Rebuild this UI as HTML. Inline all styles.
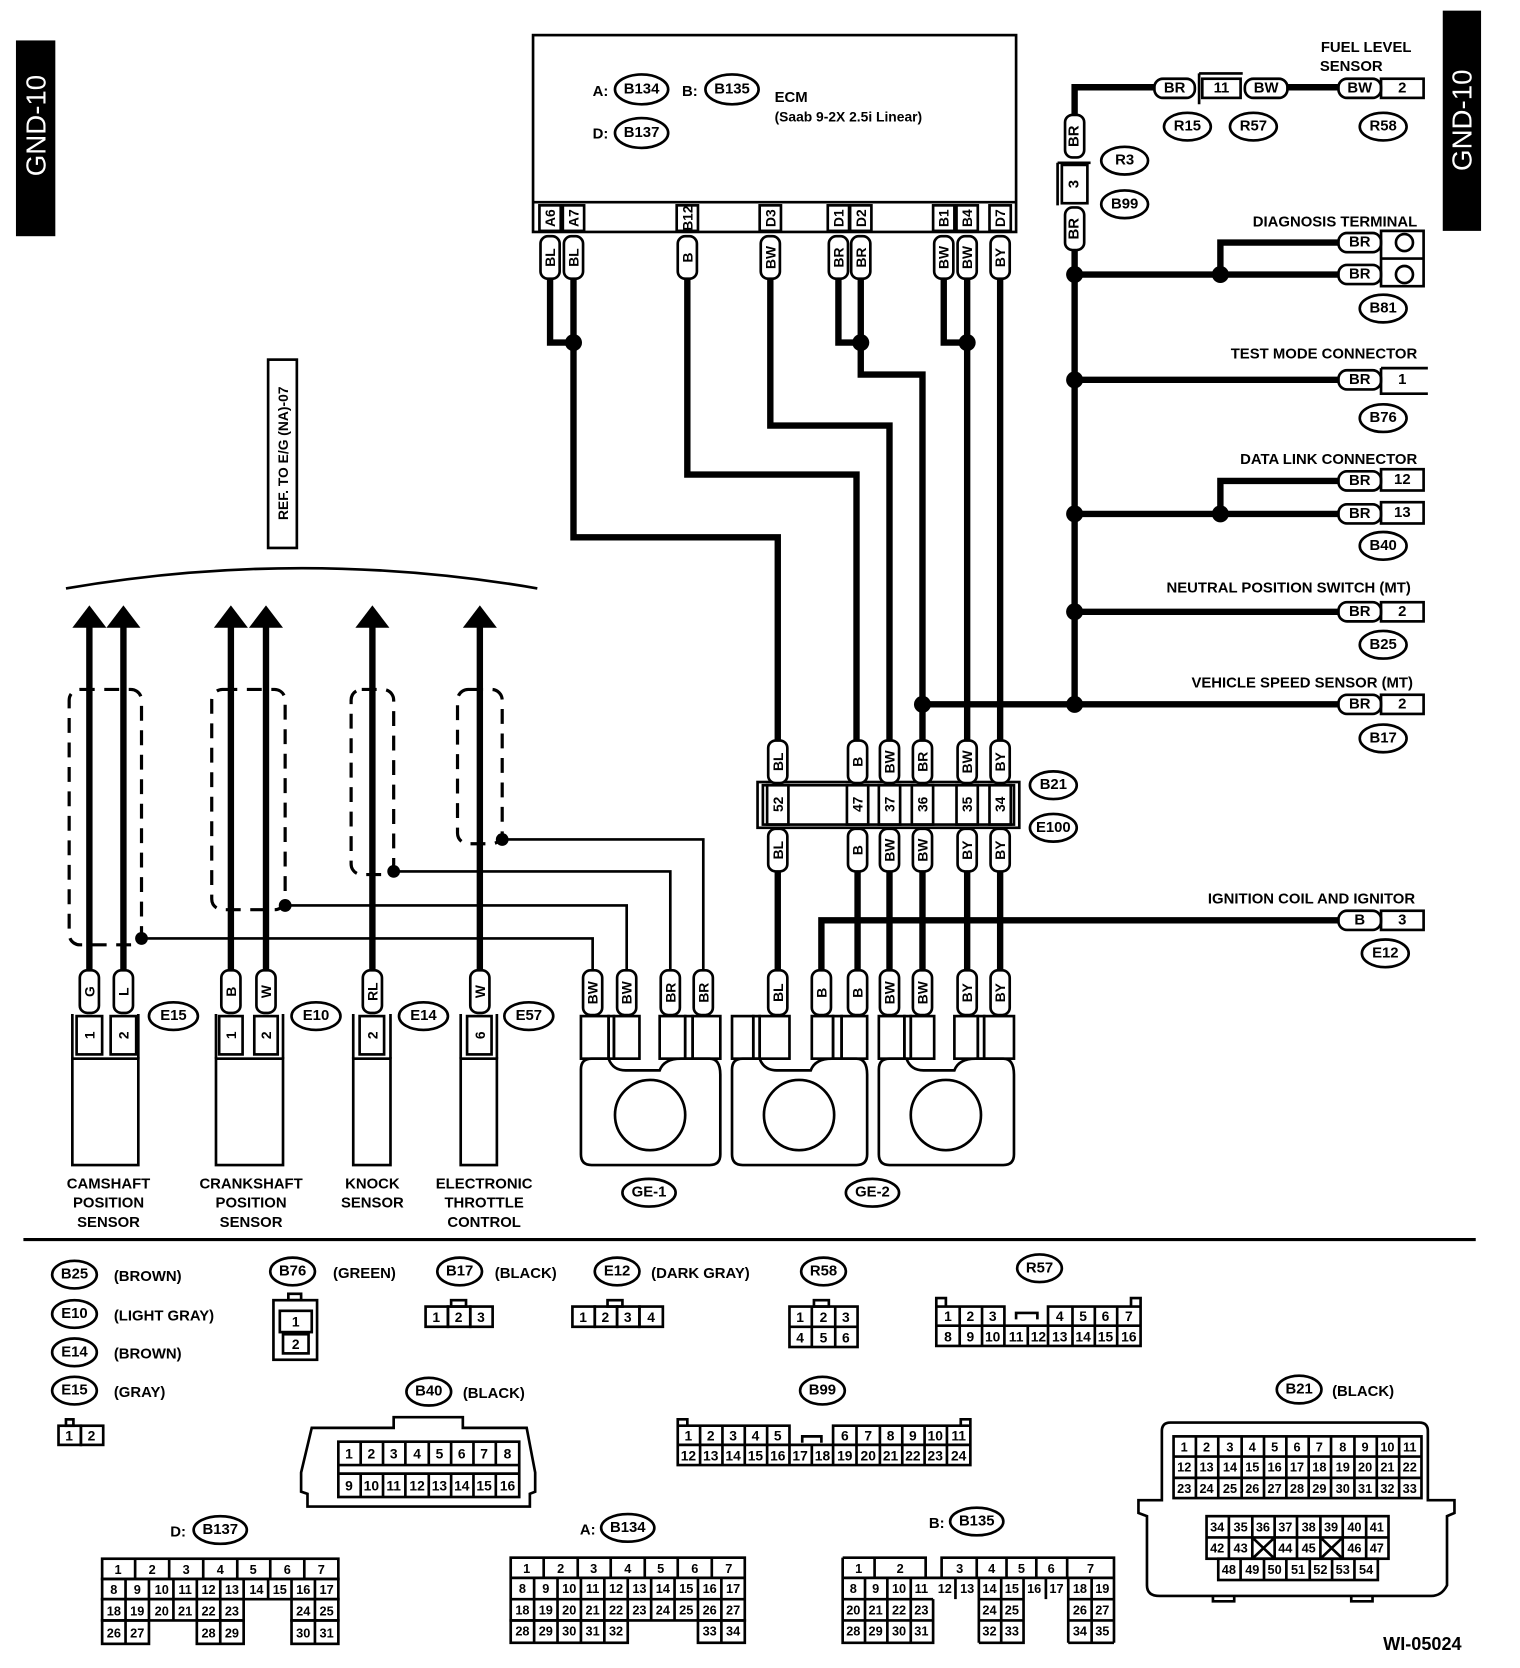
<!DOCTYPE html>
<html><head><meta charset="utf-8"><style>
html,body{margin:0;padding:0;background:#fff;}
svg{display:block;}
text{font-family:"Liberation Sans",sans-serif;font-weight:bold;fill:#000;}
.w{stroke:#000;stroke-width:6;fill:none;stroke-linejoin:miter;}
.t{stroke:#000;stroke-width:2.5;fill:none;}
.b{stroke:#000;stroke-width:2.5;fill:#fff;}
.d{stroke:#000;stroke-width:3;fill:none;stroke-dasharray:14 9;}
.c{text-anchor:middle;dominant-baseline:central;}
</style></head><body>
<svg width="1520" height="1668" viewBox="0 0 1428.6 1567.7" xmlns="http://www.w3.org/2000/svg">
<rect x="15" y="38" width="37" height="184" fill="#000"/>
<text class="c" transform="translate(34,118) rotate(-90)" style="fill:#fff;font-weight:normal;font-size:26px">GND-10</text>
<rect x="1356" y="10" width="36" height="207" fill="#000"/>
<text class="c" transform="translate(1374,113) rotate(-90)" style="fill:#fff;font-weight:normal;font-size:26px">GND-10</text>

<rect x="501" y="33" width="454" height="185" class="t" stroke-width="3"/>
<line x1="501" y1="190" x2="955" y2="190" class="t"/>
<text x="557" y="90" style="font-size:14px">A:</text>
<ellipse cx="603" cy="84" rx="25" ry="14" class="t"/><text x="603" y="84" class="c" style="font-size:14px">B134</text>
<text x="641" y="90" style="font-size:14px">B:</text>
<ellipse cx="688" cy="84" rx="25" ry="14" class="t"/><text x="688" y="84" class="c" style="font-size:14px">B135</text>
<text x="557" y="130" style="font-size:14px">D:</text>
<ellipse cx="603" cy="125" rx="25" ry="14" class="t"/><text x="603" y="125" class="c" style="font-size:14px">B137</text>
<text x="728" y="96" style="font-size:14px">ECM</text>
<text x="728" y="114" style="font-size:13px">(Saab 9-2X 2.5i Linear)</text>
<g style="font-size:13px">
<rect x="507" y="193" width="20" height="24" class="t"/><text class="c" transform="translate(517,205) rotate(-90)">A6</text>
<rect x="529" y="193" width="20" height="24" class="t"/><text class="c" transform="translate(539,205) rotate(-90)">A7</text>
<rect x="636" y="193" width="20" height="24" class="t"/><text class="c" transform="translate(646,205) rotate(-90)">B12</text>
<rect x="714" y="193" width="20" height="24" class="t"/><text class="c" transform="translate(724,205) rotate(-90)">D3</text>
<rect x="778" y="193" width="20" height="24" class="t"/><text class="c" transform="translate(788,205) rotate(-90)">D1</text>
<rect x="799" y="193" width="20" height="24" class="t"/><text class="c" transform="translate(809,205) rotate(-90)">D2</text>
<rect x="877" y="193" width="20" height="24" class="t"/><text class="c" transform="translate(887,205) rotate(-90)">B1</text>
<rect x="899" y="193" width="20" height="24" class="t"/><text class="c" transform="translate(909,205) rotate(-90)">B4</text>
<rect x="930" y="193" width="20" height="24" class="t"/><text class="c" transform="translate(940,205) rotate(-90)">D7</text>
</g>

<path class="w" d="M517,260 V322 H539"/>
<path class="w" d="M539,260 V505 H731 V702"/>
<path class="w" d="M646,260 V446 H805 V702"/>
<path class="w" d="M724,260 V400 H836 V702"/>
<path class="w" d="M788,260 V322 H809"/>
<path class="w" d="M809,260 V352 H867 V702"/>
<path class="w" d="M887,260 V322 H909"/>
<path class="w" d="M909,260 V702"/>
<path class="w" d="M940,260 V702"/>
<path class="w" d="M867,662 H1010"/>
<circle cx="539" cy="322" r="8"/><circle cx="809" cy="322" r="8"/><circle cx="909" cy="322" r="8"/><circle cx="867" cy="662" r="8"/>

<g style="font-size:13px">
<rect x="508" y="222" width="18" height="40" rx="7" class="b"/><text class="c" transform="translate(517,242) rotate(-90)">BL</text>
<rect x="530" y="222" width="18" height="40" rx="7" class="b"/><text class="c" transform="translate(539,242) rotate(-90)">BL</text>
<rect x="637" y="222" width="18" height="40" rx="7" class="b"/><text class="c" transform="translate(646,242) rotate(-90)">B</text>
<rect x="715" y="222" width="18" height="40" rx="7" class="b"/><text class="c" transform="translate(724,242) rotate(-90)">BW</text>
<rect x="779" y="222" width="18" height="40" rx="7" class="b"/><text class="c" transform="translate(788,242) rotate(-90)">BR</text>
<rect x="800" y="222" width="18" height="40" rx="7" class="b"/><text class="c" transform="translate(809,242) rotate(-90)">BR</text>
<rect x="878" y="222" width="18" height="40" rx="7" class="b"/><text class="c" transform="translate(887,242) rotate(-90)">BW</text>
<rect x="900" y="222" width="18" height="40" rx="7" class="b"/><text class="c" transform="translate(909,242) rotate(-90)">BW</text>
<rect x="931" y="222" width="18" height="40" rx="7" class="b"/><text class="c" transform="translate(940,242) rotate(-90)">BY</text>
</g>

<rect x="712" y="735" width="246" height="43" class="t"/>
<rect x="717" y="738" width="236" height="37" class="t"/>
<g style="font-size:13px">
<rect x="721" y="738" width="20" height="37" class="t"/><text class="c" transform="translate(731,756) rotate(-90)">52</text>
<rect x="796" y="738" width="20" height="37" class="t"/><text class="c" transform="translate(806,756) rotate(-90)">47</text>
<rect x="826" y="738" width="20" height="37" class="t"/><text class="c" transform="translate(836,756) rotate(-90)">37</text>
<rect x="857" y="738" width="20" height="37" class="t"/><text class="c" transform="translate(867,756) rotate(-90)">36</text>
<rect x="899" y="738" width="20" height="37" class="t"/><text class="c" transform="translate(909,756) rotate(-90)">35</text>
<rect x="930" y="738" width="20" height="37" class="t"/><text class="c" transform="translate(940,756) rotate(-90)">34</text>
</g>
<ellipse cx="990" cy="738" rx="22" ry="13" class="t"/><text x="990" y="738" class="c" style="font-size:14px">B21</text>
<ellipse cx="990" cy="778" rx="22" ry="13" class="t"/><text x="990" y="778" class="c" style="font-size:14px">E100</text>

<path class="w" d="M731,818 V915 M806,818 V915 M836,818 V915 M867,818 V915 M909,818 V915 M940,818 V915"/>
<path class="w" d="M772,915 V865 H1260"/>

<g style="font-size:13px">
<rect x="722" y="696" width="18" height="40" rx="7" class="b"/><text class="c" transform="translate(731,716) rotate(-90)">BL</text>
<rect x="797" y="696" width="18" height="40" rx="7" class="b"/><text class="c" transform="translate(806,716) rotate(-90)">B</text>
<rect x="827" y="696" width="18" height="40" rx="7" class="b"/><text class="c" transform="translate(836,716) rotate(-90)">BW</text>
<rect x="858" y="696" width="18" height="40" rx="7" class="b"/><text class="c" transform="translate(867,716) rotate(-90)">BR</text>
<rect x="900" y="696" width="18" height="40" rx="7" class="b"/><text class="c" transform="translate(909,716) rotate(-90)">BW</text>
<rect x="931" y="696" width="18" height="40" rx="7" class="b"/><text class="c" transform="translate(940,716) rotate(-90)">BY</text>
<rect x="722" y="779" width="18" height="40" rx="7" class="b"/><text class="c" transform="translate(731,799) rotate(-90)">BL</text>
<rect x="797" y="779" width="18" height="40" rx="7" class="b"/><text class="c" transform="translate(806,799) rotate(-90)">B</text>
<rect x="827" y="779" width="18" height="40" rx="7" class="b"/><text class="c" transform="translate(836,799) rotate(-90)">BW</text>
<rect x="858" y="779" width="18" height="40" rx="7" class="b"/><text class="c" transform="translate(867,799) rotate(-90)">BW</text>
<rect x="900" y="779" width="18" height="40" rx="7" class="b"/><text class="c" transform="translate(909,799) rotate(-90)">BY</text>
<rect x="931" y="779" width="18" height="40" rx="7" class="b"/><text class="c" transform="translate(940,799) rotate(-90)">BY</text>
</g>

<path class="t" d="M557,914 V882 H133 M589,914 V851 H268 M630,914 V819 H370 M661,914 V789 H472"/>
<circle cx="133" cy="882" r="6"/><circle cx="268" cy="851" r="6"/><circle cx="370" cy="819" r="6"/><circle cx="472" cy="789" r="6"/>

<g style="font-size:13px">
<rect x="548" y="912" width="18" height="42" rx="7" class="b"/><text class="c" transform="translate(557,933) rotate(-90)">BW</text>
<rect x="580" y="912" width="18" height="42" rx="7" class="b"/><text class="c" transform="translate(589,933) rotate(-90)">BW</text>
<rect x="621" y="912" width="18" height="42" rx="7" class="b"/><text class="c" transform="translate(630,933) rotate(-90)">BR</text>
<rect x="652" y="912" width="18" height="42" rx="7" class="b"/><text class="c" transform="translate(661,933) rotate(-90)">BR</text>
<rect x="722" y="912" width="18" height="42" rx="7" class="b"/><text class="c" transform="translate(731,933) rotate(-90)">BL</text>
<rect x="763" y="912" width="18" height="42" rx="7" class="b"/><text class="c" transform="translate(772,933) rotate(-90)">B</text>
<rect x="797" y="912" width="18" height="42" rx="7" class="b"/><text class="c" transform="translate(806,933) rotate(-90)">B</text>
<rect x="827" y="912" width="18" height="42" rx="7" class="b"/><text class="c" transform="translate(836,933) rotate(-90)">BW</text>
<rect x="858" y="912" width="18" height="42" rx="7" class="b"/><text class="c" transform="translate(867,933) rotate(-90)">BW</text>
<rect x="900" y="912" width="18" height="42" rx="7" class="b"/><text class="c" transform="translate(909,933) rotate(-90)">BY</text>
<rect x="931" y="912" width="18" height="42" rx="7" class="b"/><text class="c" transform="translate(940,933) rotate(-90)">BY</text>
</g>
<g class="t">
<rect x="546" y="955" width="26" height="40"/><rect x="572" y="955" width="5" height="40"/><rect x="577" y="955" width="24" height="40"/>
<rect x="620" y="955" width="24" height="40"/><rect x="644" y="955" width="7" height="40"/><rect x="651" y="955" width="26" height="40"/>
<rect x="688" y="955" width="20" height="40"/><rect x="708" y="955" width="6" height="40"/><rect x="714" y="955" width="28" height="40"/>
<rect x="763" y="955" width="20" height="40"/><rect x="783" y="955" width="8" height="40"/><rect x="791" y="955" width="24" height="40"/>
<rect x="826" y="955" width="24" height="40"/><rect x="850" y="955" width="6" height="40"/><rect x="856" y="955" width="22" height="40"/>
<rect x="897" y="955" width="22" height="40"/><rect x="919" y="955" width="6" height="40"/><rect x="925" y="955" width="28" height="40"/>
</g>
<g class="t" stroke-width="3">
<path d="M546,1005 Q546,995 556,995 H572 Q576,1006 588,1006 H620 Q624,995 640,995 H667 Q677,995 677,1010 V1085 Q677,1095 667,1095 H556 Q546,1095 546,1085 Z"/>
<circle cx="611" cy="1048" r="33"/>
<path d="M688,1005 Q688,995 698,995 H714 Q718,1006 730,1006 H762 Q766,995 782,995 H805 Q815,995 815,1010 V1085 Q815,1095 805,1095 H698 Q688,1095 688,1085 Z"/>
<circle cx="751" cy="1048" r="33"/>
<path d="M826,1005 Q826,995 836,995 H852 Q856,1006 868,1006 H897 Q901,995 917,995 H943 Q953,995 953,1010 V1085 Q953,1095 943,1095 H836 Q826,1095 826,1085 Z"/>
<circle cx="889" cy="1048" r="33"/>
</g>
<ellipse cx="610" cy="1121" rx="25" ry="13" class="t"/><text x="610" y="1121" class="c" style="font-size:14px">GE-1</text>
<ellipse cx="820" cy="1121" rx="25" ry="13" class="t"/><text x="820" y="1121" class="c" style="font-size:14px">GE-2</text>

<rect x="252" y="338" width="27" height="177" class="t"/>
<text class="c" transform="translate(266,426) rotate(-90)" style="font-size:13px">REF. TO E/G (NA)-07</text>
<path class="t" d="M62,553 Q284,515 505,553"/>

<path class="w" d="M84,585 V915 M116,585 V915 M217,585 V915 M250,585 V915 M350,585 V915 M451,585 V915"/>
<g>
<polygon points="68,590 84,569 100,590"/><polygon points="100,590 116,569 132,590"/>
<polygon points="201,590 217,569 233,590"/><polygon points="234,590 250,569 266,590"/>
<polygon points="334,590 350,569 366,590"/><polygon points="435,590 451,569 467,590"/>
</g>
<rect x="65" y="648" width="68" height="240" rx="10" class="d"/>
<rect x="199" y="648" width="69" height="207" rx="10" class="d"/>
<rect x="330" y="648" width="40" height="174" rx="10" class="d"/>
<rect x="430" y="648" width="42" height="145" rx="10" class="d"/>

<g style="font-size:13px">
<rect x="75" y="912" width="18" height="40" rx="7" class="b"/><text class="c" transform="translate(84,932) rotate(-90)">G</text>
<rect x="107" y="912" width="18" height="40" rx="7" class="b"/><text class="c" transform="translate(116,932) rotate(-90)">L</text>
<rect x="208" y="912" width="18" height="40" rx="7" class="b"/><text class="c" transform="translate(217,932) rotate(-90)">B</text>
<rect x="241" y="912" width="18" height="40" rx="7" class="b"/><text class="c" transform="translate(250,932) rotate(-90)">W</text>
<rect x="341" y="912" width="18" height="40" rx="7" class="b"/><text class="c" transform="translate(350,932) rotate(-90)">RL</text>
<rect x="442" y="912" width="18" height="40" rx="7" class="b"/><text class="c" transform="translate(451,932) rotate(-90)">W</text>
</g>
<g class="t">
<path d="M68,995 V953 M130,995 V953 M203,995 V953 M266,995 V953 M332,995 V953 M367,995 V953 M433,995 V953 M467,995 V953"/>
<rect x="72" y="955" width="24" height="36"/><rect x="104" y="955" width="24" height="36"/>
<rect x="206" y="955" width="22" height="36"/><rect x="239" y="955" width="22" height="36"/>
<rect x="338" y="955" width="23" height="36"/><rect x="439" y="955" width="23" height="36"/>
<rect x="68" y="995" width="62" height="100"/><rect x="203" y="995" width="63" height="100"/>
<rect x="332" y="995" width="35" height="100"/><rect x="433" y="995" width="34" height="100"/>
</g>
<g style="font-size:13px">
<text class="c" transform="translate(84,973) rotate(-90)">1</text><text class="c" transform="translate(116,973) rotate(-90)">2</text>
<text class="c" transform="translate(217,973) rotate(-90)">1</text><text class="c" transform="translate(250,973) rotate(-90)">2</text>
<text class="c" transform="translate(350,973) rotate(-90)">2</text><text class="c" transform="translate(451,973) rotate(-90)">6</text>
</g>
<g style="font-size:14px">
<ellipse cx="163" cy="955" rx="23" ry="13" class="t"/><text x="163" y="955" class="c">E15</text>
<ellipse cx="297" cy="955" rx="23" ry="13" class="t"/><text x="297" y="955" class="c">E10</text>
<ellipse cx="398" cy="955" rx="23" ry="13" class="t"/><text x="398" y="955" class="c">E14</text>
<ellipse cx="497" cy="955" rx="23" ry="13" class="t"/><text x="497" y="955" class="c">E57</text>
</g>
<g style="font-size:14px;text-anchor:middle">
<text x="102" y="1117">CAMSHAFT</text><text x="102" y="1135">POSITION</text><text x="102" y="1153">SENSOR</text>
<text x="236" y="1117">CRANKSHAFT</text><text x="236" y="1135">POSITION</text><text x="236" y="1153">SENSOR</text>
<text x="350" y="1117">KNOCK</text><text x="350" y="1135">SENSOR</text>
<text x="455" y="1117">ELECTRONIC</text><text x="455" y="1135">THROTTLE</text><text x="455" y="1153">CONTROL</text>
</g>

<path class="w" d="M1010,110 V82 H1087"/>
<path class="w" d="M1010,234 V662"/>
<path class="w" d="M1210,82 H1260"/>
<path class="w" d="M1010,258 H1260 M1147,258 V228 H1260"/>
<path class="w" d="M1010,357 H1260"/>
<path class="w" d="M1010,483 H1260 M1147,483 V452 H1260"/>
<path class="w" d="M1010,575 H1260"/>
<path class="w" d="M1010,662 H1260"/>
<circle cx="1010" cy="258" r="8"/><circle cx="1147" cy="258" r="8"/><circle cx="1010" cy="357" r="8"/>
<circle cx="1010" cy="483" r="8"/><circle cx="1147" cy="483" r="8"/><circle cx="1010" cy="575" r="8"/><circle cx="1010" cy="662" r="8"/>

<g style="font-size:14px">
<text x="1284" y="45" class="c">FUEL LEVEL</text>
<text x="1270" y="63" class="c">SENSOR</text>
<rect x="1085" y="74" width="38" height="18" rx="8" class="b"/><text x="1104" y="83" class="c">BR</text>
<path class="t" d="M1127,69 H1168 M1127,69 V98"/>
<rect x="1130" y="74" width="36" height="18" class="t"/><text x="1148" y="83" class="c">11</text>
<rect x="1170" y="74" width="40" height="18" rx="8" class="b"/><text x="1190" y="83" class="c">BW</text>
<rect x="1258" y="74" width="40" height="18" rx="8" class="b"/><text x="1278" y="83" class="c">BW</text>
<rect x="1298" y="74" width="40" height="18" class="t"/><text x="1318" y="83" class="c">2</text>
<ellipse cx="1116" cy="119" rx="22" ry="13" class="t"/><text x="1116" y="119" class="c">R15</text>
<ellipse cx="1178" cy="119" rx="22" ry="13" class="t"/><text x="1178" y="119" class="c">R57</text>
<ellipse cx="1300" cy="119" rx="22" ry="13" class="t"/><text x="1300" y="119" class="c">R58</text>

<rect x="1001" y="108" width="18" height="40" rx="7" class="b"/><text class="c" transform="translate(1010,128) rotate(-90)">BR</text>
<path class="t" d="M994,153 V193 M994,153 H1025"/>
<rect x="998" y="155" width="24" height="36" class="t"/><text class="c" transform="translate(1010,173) rotate(-90)">3</text>
<rect x="1001" y="195" width="18" height="40" rx="7" class="b"/><text class="c" transform="translate(1010,215) rotate(-90)">BR</text>
<ellipse cx="1057" cy="151" rx="22" ry="13" class="t"/><text x="1057" y="151" class="c">R3</text>
<ellipse cx="1057" cy="192" rx="22" ry="13" class="t"/><text x="1057" y="192" class="c">B99</text>

<text x="1332" y="213" style="text-anchor:end">DIAGNOSIS TERMINAL</text>
<rect x="1258" y="219" width="40" height="18" rx="8" class="b"/><text x="1278" y="228" class="c">BR</text>
<rect x="1258" y="249" width="40" height="18" rx="8" class="b"/><text x="1278" y="258" class="c">BR</text>
<path class="t" d="M1298,217 H1338 V269 H1298 Z M1298,243 H1338"/>
<circle cx="1320" cy="228" r="8" class="t"/><circle cx="1320" cy="258" r="8" class="t"/>
<ellipse cx="1300" cy="290" rx="22" ry="13" class="t"/><text x="1300" y="290" class="c">B81</text>

<text x="1332" y="337" style="text-anchor:end">TEST MODE CONNECTOR</text>
<rect x="1258" y="348" width="40" height="18" rx="8" class="b"/><text x="1278" y="357" class="c">BR</text>
<path class="t" d="M1298,346 H1342 M1298,346 V370 H1342"/><text x="1318" y="357" class="c">1</text>
<ellipse cx="1300" cy="393" rx="22" ry="13" class="t"/><text x="1300" y="393" class="c">B76</text>

<text x="1332" y="436" style="text-anchor:end">DATA LINK CONNECTOR</text>
<rect x="1258" y="443" width="40" height="18" rx="8" class="b"/><text x="1278" y="452" class="c">BR</text>
<rect x="1258" y="474" width="40" height="18" rx="8" class="b"/><text x="1278" y="483" class="c">BR</text>
<rect x="1298" y="441" width="40" height="20" class="t"/><text x="1318" y="451" class="c">12</text>
<rect x="1298" y="472" width="40" height="20" class="t"/><text x="1318" y="482" class="c">13</text>
<ellipse cx="1300" cy="513" rx="22" ry="13" class="t"/><text x="1300" y="513" class="c">B40</text>

<text x="1326" y="557" style="text-anchor:end">NEUTRAL POSITION SWITCH (MT)</text>
<rect x="1258" y="566" width="40" height="18" rx="8" class="b"/><text x="1278" y="575" class="c">BR</text>
<rect x="1298" y="566" width="40" height="18" class="t"/><text x="1318" y="575" class="c">2</text>
<ellipse cx="1300" cy="606" rx="22" ry="13" class="t"/><text x="1300" y="606" class="c">B25</text>

<text x="1328" y="646" style="text-anchor:end">VEHICLE SPEED SENSOR (MT)</text>
<rect x="1258" y="653" width="40" height="18" rx="8" class="b"/><text x="1278" y="662" class="c">BR</text>
<rect x="1298" y="653" width="40" height="18" class="t"/><text x="1318" y="662" class="c">2</text>
<ellipse cx="1300" cy="694" rx="22" ry="13" class="t"/><text x="1300" y="694" class="c">B17</text>

<text x="1330" y="849" style="text-anchor:end">IGNITION COIL AND IGNITOR</text>
<rect x="1258" y="856" width="40" height="18" rx="8" class="b"/><text x="1278" y="865" class="c">B</text>
<rect x="1298" y="856" width="40" height="18" class="t"/><text x="1318" y="865" class="c">3</text>
<ellipse cx="1302" cy="896" rx="22" ry="13" class="t"/><text x="1302" y="896" class="c">E12</text>
</g>

<line x1="22" y1="1165" x2="1387" y2="1165" stroke="#000" stroke-width="3"/>

<g style="font-size:14px">
<ellipse cx="70" cy="1198" rx="21" ry="13" class="t" stroke-width="3"/><text x="70" y="1198" class="c">B25</text><text x="107" y="1204">(BROWN)</text>
<ellipse cx="70" cy="1235" rx="21" ry="13" class="t" stroke-width="3"/><text x="70" y="1235" class="c">E10</text><text x="107" y="1241">(LIGHT GRAY)</text>
<ellipse cx="70" cy="1271" rx="21" ry="13" class="t" stroke-width="3"/><text x="70" y="1271" class="c">E14</text><text x="107" y="1277">(BROWN)</text>
<ellipse cx="70" cy="1307" rx="21" ry="13" class="t" stroke-width="3"/><text x="70" y="1307" class="c">E15</text><text x="107" y="1313">(GRAY)</text>
<ellipse cx="275" cy="1195" rx="21" ry="13" class="t" stroke-width="3"/><text x="275" y="1195" class="c">B76</text><text x="313" y="1201">(GREEN)</text>
<ellipse cx="432" cy="1195" rx="21" ry="13" class="t" stroke-width="3"/><text x="432" y="1195" class="c">B17</text><text x="465" y="1201">(BLACK)</text>
<ellipse cx="580" cy="1195" rx="21" ry="13" class="t" stroke-width="3"/><text x="580" y="1195" class="c">E12</text><text x="612" y="1201">(DARK GRAY)</text>
<ellipse cx="774" cy="1195" rx="21" ry="13" class="t" stroke-width="3"/><text x="774" y="1195" class="c">R58</text>
<ellipse cx="977" cy="1192" rx="21" ry="13" class="t" stroke-width="3"/><text x="977" y="1192" class="c">R57</text>
<ellipse cx="403" cy="1308" rx="21" ry="13" class="t" stroke-width="3"/><text x="403" y="1308" class="c">B40</text><text x="435" y="1314">(BLACK)</text>
<ellipse cx="773" cy="1307" rx="21" ry="13" class="t" stroke-width="3"/><text x="773" y="1307" class="c">B99</text>
<ellipse cx="1221" cy="1306" rx="21" ry="13" class="t" stroke-width="3"/><text x="1221" y="1306" class="c">B21</text><text x="1252" y="1312">(BLACK)</text>
<text x="160" y="1444">D:</text><ellipse cx="207" cy="1438" rx="25" ry="13" class="t" stroke-width="3"/><text x="207" y="1438" class="c">B137</text>
<text x="545" y="1442">A:</text><ellipse cx="590" cy="1436" rx="25" ry="13" class="t" stroke-width="3"/><text x="590" y="1436" class="c">B134</text>
<text x="873" y="1436">B:</text><ellipse cx="918" cy="1430" rx="25" ry="13" class="t" stroke-width="3"/><text x="918" y="1430" class="c">B135</text>
<text x="1300" y="1551" style="font-size:17px">WI-05024</text>
</g>

<g style="font-size:13px">
<rect x="62" y="1334" width="7" height="6" class="t"/>
<rect x="55" y="1340" width="21" height="18" class="t"/><rect x="76" y="1340" width="21" height="18" class="t"/>
<text x="65" y="1349" class="c">1</text><text x="86" y="1349" class="c">2</text>
<rect x="271" y="1216" width="12" height="6" class="t"/>
<rect x="257" y="1222" width="41" height="56" class="t"/>
<rect x="263" y="1232" width="30" height="20" class="t"/><rect x="266" y="1254" width="24" height="18" class="t"/>
<text x="278" y="1242" class="c">1</text><text x="278" y="1263" class="c">2</text>
<rect x="424" y="1222" width="14" height="6" class="t"/>
<rect x="400" y="1228" width="21" height="19" class="t"/><rect x="421" y="1228" width="21" height="19" class="t"/><rect x="442" y="1228" width="21" height="19" class="t"/>
<text x="410" y="1238" class="c">1</text><text x="431" y="1238" class="c">2</text><text x="452" y="1238" class="c">3</text>
<rect x="571" y="1222" width="14" height="6" class="t"/>
<rect x="538" y="1228" width="21" height="19" class="t"/><rect x="559" y="1228" width="21" height="19" class="t"/><rect x="580" y="1228" width="21" height="19" class="t"/><rect x="601" y="1228" width="22" height="19" class="t"/>
<text x="548" y="1238" class="c">1</text><text x="569" y="1238" class="c">2</text><text x="590" y="1238" class="c">3</text><text x="612" y="1238" class="c">4</text>
<rect x="765" y="1222" width="14" height="6" class="t"/>
<rect x="742" y="1228" width="64" height="38" class="t"/>
<path class="t" d="M763,1228 V1266 M785,1228 V1266 M742,1247 H806"/>
<text x="752" y="1238" class="c">1</text><text x="774" y="1238" class="c">2</text><text x="795" y="1238" class="c">3</text>
<text x="752" y="1257" class="c">4</text><text x="774" y="1257" class="c">5</text><text x="795" y="1257" class="c">6</text>
<path class="t" d="M880,1228 V1265 H1072 V1228 M880,1228 H944 V1246 M985,1246 V1228 H1072 M880,1246 H1072 M902,1228 V1265 M923,1228 V1265 M944,1246 V1265 M966,1246 V1265 M985,1228 V1265 M1008,1228 V1265 M1029,1228 V1265 M1050,1228 V1265 M955,1240 V1234 H975 V1240 M880,1228 V1220 H889 V1228 M1063,1228 V1220 H1072 V1228"/>
<text x="891" y="1237" class="c">1</text><text x="912" y="1237" class="c">2</text><text x="933" y="1237" class="c">3</text>
<text x="996" y="1237" class="c">4</text><text x="1018" y="1237" class="c">5</text><text x="1039" y="1237" class="c">6</text><text x="1061" y="1237" class="c">7</text>
<text x="891" y="1256" class="c">8</text><text x="912" y="1256" class="c">9</text><text x="933" y="1256" class="c">10</text><text x="955" y="1256" class="c">11</text><text x="976" y="1256" class="c">12</text><text x="996" y="1256" class="c">13</text><text x="1018" y="1256" class="c">14</text><text x="1039" y="1256" class="c">15</text><text x="1061" y="1256" class="c">16</text>
<path class="t" d="M370,1342 V1332 H435 V1342 H495 L503,1384 V1402 L498,1404 V1416 H289 V1404 L283,1402 V1384 L293,1342 Z"/>
<rect x="318" y="1355" width="170" height="52" class="t"/>
<path class="t" d="M318,1377 H488 M318,1385 H488 M339,1355 V1377 M360,1355 V1377 M381,1355 V1377 M403,1355 V1377 M424,1355 V1377 M445,1355 V1377 M466,1355 V1377 M339,1385 V1407 M360,1385 V1407 M381,1385 V1407 M403,1385 V1407 M424,1385 V1407 M445,1385 V1407 M466,1385 V1407"/>
<text x="328" y="1366" class="c">1</text><text x="349" y="1366" class="c">2</text><text x="370" y="1366" class="c">3</text><text x="392" y="1366" class="c">4</text><text x="413" y="1366" class="c">5</text><text x="434" y="1366" class="c">6</text><text x="455" y="1366" class="c">7</text><text x="477" y="1366" class="c">8</text>
<text x="328" y="1396" class="c">9</text><text x="349" y="1396" class="c">10</text><text x="370" y="1396" class="c">11</text><text x="392" y="1396" class="c">12</text><text x="413" y="1396" class="c">13</text><text x="434" y="1396" class="c">14</text><text x="455" y="1396" class="c">15</text><text x="477" y="1396" class="c">16</text>
<!-- B99 -->
<path class="t" d="M637,1340 H742 V1358 M783,1358 V1340 H912 V1377 H637 V1340 M637,1358 H912 M658,1340 V1377 M679,1340 V1377 M700,1340 V1377 M721,1340 V1377 M742,1358 V1377 M763,1358 V1377 M783,1340 V1377 M805,1340 V1377 M827,1340 V1377 M848,1340 V1377 M869,1340 V1377 M890,1340 V1377 M754,1356 V1350 H772 V1356 M637,1340 V1334 H646 V1340 M903,1340 V1334 H912 V1340"/>
<text x="647" y="1349" class="c">1</text><text x="668" y="1349" class="c">2</text><text x="689" y="1349" class="c">3</text><text x="710" y="1349" class="c">4</text><text x="731" y="1349" class="c">5</text>
<text x="794" y="1349" class="c">6</text><text x="816" y="1349" class="c">7</text><text x="837" y="1349" class="c">8</text><text x="858" y="1349" class="c">9</text><text x="879" y="1349" class="c">10</text><text x="901" y="1349" class="c">11</text>
<text x="647" y="1368" class="c">12</text><text x="668" y="1368" class="c">13</text><text x="689" y="1368" class="c">14</text><text x="710" y="1368" class="c">15</text><text x="731" y="1368" class="c">16</text><text x="752" y="1368" class="c">17</text><text x="773" y="1368" class="c">18</text><text x="794" y="1368" class="c">19</text><text x="816" y="1368" class="c">20</text><text x="837" y="1368" class="c">21</text><text x="858" y="1368" class="c">22</text><text x="879" y="1368" class="c">23</text><text x="901" y="1368" class="c">24</text>
<!-- B21 -->
<path class="t" d="M1092,1410 V1345 Q1092,1337 1100,1337 H1334 Q1342,1337 1342,1345 V1410 H1367 V1422 L1360,1425 V1490 Q1355,1500 1345,1500 H1090 Q1078,1500 1078,1490 V1425 L1070,1422 V1410 Z M1140,1500 V1505 H1160 V1500 M1270,1500 V1505 H1290 V1500"/>
<rect x="1103" y="1350" width="233" height="58" class="t"/>
<path class="t" d="M1103,1369 H1336 M1103,1389 H1336 M1124,1350 V1408 M1145,1350 V1408 M1167,1350 V1408 M1188,1350 V1408 M1209,1350 V1408 M1230,1350 V1408 M1251,1350 V1408 M1273,1350 V1408 M1294,1350 V1408 M1315,1350 V1408"/>
<g style="font-size:12px">
<text x="1113" y="1360" class="c">1</text><text x="1134" y="1360" class="c">2</text><text x="1156" y="1360" class="c">3</text><text x="1177" y="1360" class="c">4</text><text x="1198" y="1360" class="c">5</text><text x="1219" y="1360" class="c">6</text><text x="1240" y="1360" class="c">7</text><text x="1262" y="1360" class="c">8</text><text x="1283" y="1360" class="c">9</text><text x="1304" y="1360" class="c">10</text><text x="1325" y="1360" class="c">11</text>
<text x="1113" y="1379" class="c">12</text><text x="1134" y="1379" class="c">13</text><text x="1156" y="1379" class="c">14</text><text x="1177" y="1379" class="c">15</text><text x="1198" y="1379" class="c">16</text><text x="1219" y="1379" class="c">17</text><text x="1240" y="1379" class="c">18</text><text x="1262" y="1379" class="c">19</text><text x="1283" y="1379" class="c">20</text><text x="1304" y="1379" class="c">21</text><text x="1325" y="1379" class="c">22</text>
<text x="1113" y="1399" class="c">23</text><text x="1134" y="1399" class="c">24</text><text x="1156" y="1399" class="c">25</text><text x="1177" y="1399" class="c">26</text><text x="1198" y="1399" class="c">27</text><text x="1219" y="1399" class="c">28</text><text x="1240" y="1399" class="c">29</text><text x="1262" y="1399" class="c">30</text><text x="1283" y="1399" class="c">31</text><text x="1304" y="1399" class="c">32</text><text x="1325" y="1399" class="c">33</text>
</g>
<rect x="1134" y="1425" width="171" height="40" class="t"/>
<path class="t" d="M1134,1445 H1305 M1155,1425 V1465 M1177,1425 V1465 M1198,1425 V1465 M1219,1425 V1465 M1241,1425 V1465 M1262,1425 V1465 M1284,1425 V1465 M1177,1445 L1198,1465 M1198,1445 L1177,1465 M1241,1445 L1262,1465 M1262,1445 L1241,1465"/>
<rect x="1145" y="1465" width="150" height="20" class="t"/>
<path class="t" d="M1166,1465 V1485 M1188,1465 V1485 M1209,1465 V1485 M1231,1465 V1485 M1252,1465 V1485 M1273,1465 V1485"/>
<g style="font-size:12px">
<text x="1144" y="1435" class="c">34</text><text x="1166" y="1435" class="c">35</text><text x="1187" y="1435" class="c">36</text><text x="1208" y="1435" class="c">37</text><text x="1230" y="1435" class="c">38</text><text x="1251" y="1435" class="c">39</text><text x="1273" y="1435" class="c">40</text><text x="1294" y="1435" class="c">41</text>
<text x="1144" y="1455" class="c">42</text><text x="1166" y="1455" class="c">43</text><text x="1208" y="1455" class="c">44</text><text x="1230" y="1455" class="c">45</text><text x="1273" y="1455" class="c">46</text><text x="1294" y="1455" class="c">47</text>
<text x="1155" y="1475" class="c">48</text><text x="1177" y="1475" class="c">49</text><text x="1198" y="1475" class="c">50</text><text x="1220" y="1475" class="c">51</text><text x="1241" y="1475" class="c">52</text><text x="1262" y="1475" class="c">53</text><text x="1284" y="1475" class="c">54</text>
</g>
<!-- B137 -->
<g style="font-size:12px">
<rect x="96" y="1465" width="222" height="19" class="t"/>
<rect x="96" y="1484" width="222" height="19" class="t"/>
<rect x="96" y="1503" width="133" height="20" class="t"/>
<rect x="274" y="1503" width="44" height="20" class="t"/>
<rect x="96" y="1523" width="44" height="22" class="t"/>
<rect x="185" y="1523" width="44" height="22" class="t"/>
<rect x="274" y="1523" width="44" height="22" class="t"/>
<path class="t" d="M127,1465 V1484 M159,1465 V1484 M191,1465 V1484 M223,1465 V1484 M254,1465 V1484 M286,1465 V1484 M118,1484 V1523 M140,1484 V1523 M163,1484 V1523 M185,1484 V1523 M207,1484 V1523 M229,1484 V1503 M252,1484 V1503 M274,1484 V1503 M296,1484 V1545 M118,1523 V1545 M207,1523 V1545"/>
<text x="111" y="1475" class="c">1</text><text x="143" y="1475" class="c">2</text><text x="175" y="1475" class="c">3</text><text x="207" y="1475" class="c">4</text><text x="238" y="1475" class="c">5</text><text x="270" y="1475" class="c">6</text><text x="302" y="1475" class="c">7</text>
<text x="107" y="1494" class="c">8</text><text x="129" y="1494" class="c">9</text><text x="152" y="1494" class="c">10</text><text x="174" y="1494" class="c">11</text><text x="196" y="1494" class="c">12</text><text x="218" y="1494" class="c">13</text><text x="241" y="1494" class="c">14</text><text x="263" y="1494" class="c">15</text><text x="285" y="1494" class="c">16</text><text x="307" y="1494" class="c">17</text>
<text x="107" y="1514" class="c">18</text><text x="129" y="1514" class="c">19</text><text x="152" y="1514" class="c">20</text><text x="174" y="1514" class="c">21</text><text x="196" y="1514" class="c">22</text><text x="218" y="1514" class="c">23</text><text x="285" y="1514" class="c">24</text><text x="307" y="1514" class="c">25</text>
<text x="107" y="1535" class="c">26</text><text x="129" y="1535" class="c">27</text><text x="196" y="1535" class="c">28</text><text x="218" y="1535" class="c">29</text><text x="285" y="1535" class="c">30</text><text x="307" y="1535" class="c">31</text>
</g>
<!-- B134 -->
<g style="font-size:12px">
<rect x="480" y="1464" width="220" height="59" class="t"/>
<path class="t" d="M480,1483 H700 M480,1503 H700 M511,1464 V1483 M543,1464 V1483 M574,1464 V1483 M606,1464 V1483 M637,1464 V1483 M669,1464 V1483 M502,1483 V1523 M524,1483 V1523 M546,1483 V1523 M568,1483 V1523 M590,1483 V1523 M612,1483 V1523 M634,1483 V1523 M656,1483 V1523 M678,1483 V1523"/>
<rect x="480" y="1523" width="110" height="21" class="t"/>
<rect x="656" y="1523" width="44" height="21" class="t"/>
<path class="t" d="M502,1523 V1544 M524,1523 V1544 M546,1523 V1544 M568,1523 V1544 M678,1523 V1544"/>
<text x="495" y="1474" class="c">1</text><text x="527" y="1474" class="c">2</text><text x="558" y="1474" class="c">3</text><text x="590" y="1474" class="c">4</text><text x="621" y="1474" class="c">5</text><text x="653" y="1474" class="c">6</text><text x="685" y="1474" class="c">7</text>
<text x="491" y="1493" class="c">8</text><text x="513" y="1493" class="c">9</text><text x="535" y="1493" class="c">10</text><text x="557" y="1493" class="c">11</text><text x="579" y="1493" class="c">12</text><text x="601" y="1493" class="c">13</text><text x="623" y="1493" class="c">14</text><text x="645" y="1493" class="c">15</text><text x="667" y="1493" class="c">16</text><text x="689" y="1493" class="c">17</text>
<text x="491" y="1513" class="c">18</text><text x="513" y="1513" class="c">19</text><text x="535" y="1513" class="c">20</text><text x="557" y="1513" class="c">21</text><text x="579" y="1513" class="c">22</text><text x="601" y="1513" class="c">23</text><text x="623" y="1513" class="c">24</text><text x="645" y="1513" class="c">25</text><text x="667" y="1513" class="c">26</text><text x="689" y="1513" class="c">27</text>
<text x="491" y="1533" class="c">28</text><text x="513" y="1533" class="c">29</text><text x="535" y="1533" class="c">30</text><text x="557" y="1533" class="c">31</text><text x="579" y="1533" class="c">32</text><text x="667" y="1533" class="c">33</text><text x="689" y="1533" class="c">34</text>
</g>
<!-- B135 -->
<g style="font-size:12px">
<path class="t" d="M792,1464 H870 V1483 M885,1483 V1464 H1047 V1544 M792,1464 V1544 H877 V1503 M920,1544 V1503 M920,1544 H962 V1503 M1004,1544 V1503 M1004,1544 H1047 M792,1483 H1047 M792,1503 H877 M920,1503 H962 M1004,1503 H1047 M792,1523 H877 M920,1523 H962 M1004,1523 H1047 M822,1464 V1483 M918,1464 V1483 M946,1464 V1483 M974,1464 V1483 M1003,1464 V1483 M813,1483 V1544 M834,1483 V1544 M856,1483 V1544 M898,1483 V1503 M941,1483 V1544 M983,1483 V1503 M1026,1483 V1544 M962,1483 V1503 M1004,1483 V1503 M920,1483 V1503"/>
<text x="807" y="1474" class="c">1</text><text x="846" y="1474" class="c">2</text><text x="902" y="1474" class="c">3</text><text x="932" y="1474" class="c">4</text><text x="960" y="1474" class="c">5</text><text x="988" y="1474" class="c">6</text><text x="1025" y="1474" class="c">7</text>
<text x="802" y="1493" class="c">8</text><text x="823" y="1493" class="c">9</text><text x="845" y="1493" class="c">10</text><text x="866" y="1493" class="c">11</text><text x="888" y="1493" class="c">12</text><text x="909" y="1493" class="c">13</text><text x="930" y="1493" class="c">14</text><text x="951" y="1493" class="c">15</text><text x="972" y="1493" class="c">16</text><text x="993" y="1493" class="c">17</text><text x="1015" y="1493" class="c">18</text><text x="1036" y="1493" class="c">19</text>
<text x="802" y="1513" class="c">20</text><text x="823" y="1513" class="c">21</text><text x="845" y="1513" class="c">22</text><text x="866" y="1513" class="c">23</text><text x="930" y="1513" class="c">24</text><text x="951" y="1513" class="c">25</text><text x="1015" y="1513" class="c">26</text><text x="1036" y="1513" class="c">27</text>
<text x="802" y="1533" class="c">28</text><text x="823" y="1533" class="c">29</text><text x="845" y="1533" class="c">30</text><text x="866" y="1533" class="c">31</text><text x="930" y="1533" class="c">32</text><text x="951" y="1533" class="c">33</text><text x="1015" y="1533" class="c">34</text><text x="1036" y="1533" class="c">35</text>
</g>
</g>
</svg>
</body></html>
